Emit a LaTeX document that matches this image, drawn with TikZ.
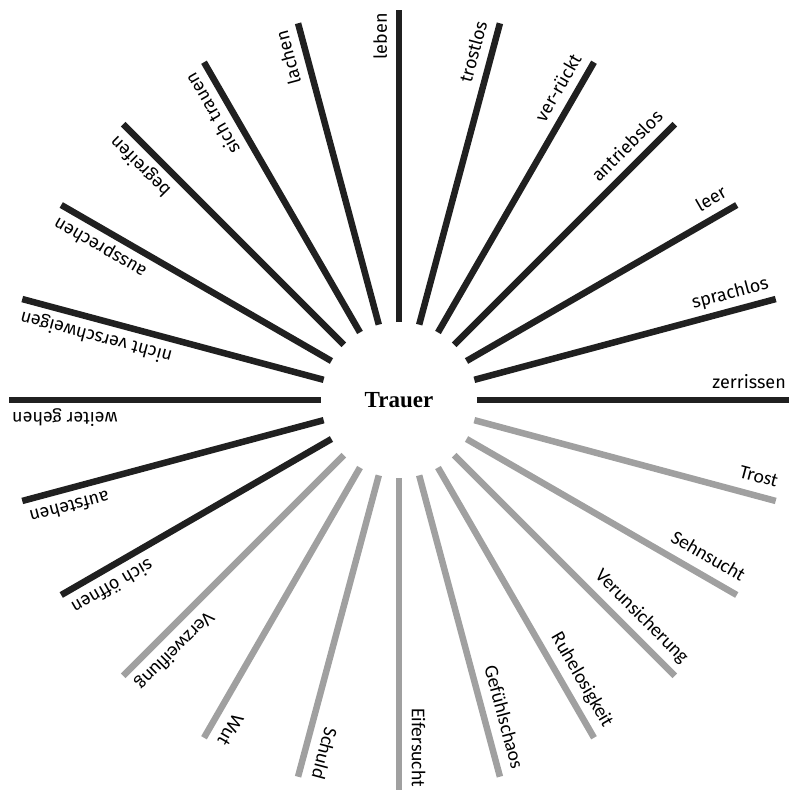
\documentclass[tikz,border=0pt]{standalone}
\usepackage{fontspec}
\setmainfont{Liberation Serif}
\newfontfamily\darkfont{Fira Sans}
\newfontfamily\grayfont{Carlito}
\usetikzlibrary{calc}
\definecolor{darkline}{RGB}{32,32,32}
\definecolor{grayline}{RGB}{160,160,160}
\begin{document}
\begin{tikzpicture}[x=1pt,y=1pt,
  ray/.style={line width=6.5pt},
  darkray/.style={ray,draw=darkline},
  grayray/.style={ray,draw=grayline},
  lbl/.style={inner sep=0pt,anchor=base east,text=black},
  darklbl/.style={lbl,font=\darkfont\fontsize{18}{20}\selectfont},
  graylbl/.style={lbl,font=\grayfont\fontsize{19.5}{22}\selectfont},
  center/.style={font=\bfseries\fontsize{23}{26}\selectfont,inner sep=0pt},
]
\useasboundingbox (-399,-393) rectangle (394,400);
\node[center] (c) at (0,0) {Trauer};
\foreach \i/\a/\t/\k/\g in {
  1/0/zerrissen/dark/12,
  2/15/sprachlos/dark/12,
  3/30/leer/dark/12,
  4/45/antriebslos/dark/12,
  5/60/ver-rückt/dark/12,
  6/75/trostlos/dark/12,
  7/90/leben/dark/12,
  8/105/lachen/dark/12,
  9/120/sich trauen/dark/12,
  10/135/begreifen/dark/12,
  11/150/aussprechen/dark/12,
  12/165/nicht verschweigen/dark/12,
  13/180/weiter gehen/dark/12,
  14/195/aufstehen/dark/12,
  15/210/sich öffnen/dark/12,
  16/225/Verzweiflung/gray/13,
  17/240/Wut/gray/13,
  18/255/Schuld/gray/13,
  19/270/Eifersucht/gray/13,
  20/285/Gefühlschaos/gray/13,
  21/300/Ruhelosigkeit/gray/13,
  22/315/Verunsicherung/gray/13,
  23/330/Sehnsucht/gray/13,
  24/345/Trost/gray/13}{
  \coordinate (in\i) at (\a:78);
  \coordinate (out\i) at (\a:390);
  \draw[\k ray] (in\i) -- (out\i);
  \node[\k lbl, rotate=\a] (lab\i) at ($(\a:387)+(\a+90:\g)$) {\t};
}
\end{tikzpicture}
\end{document}
